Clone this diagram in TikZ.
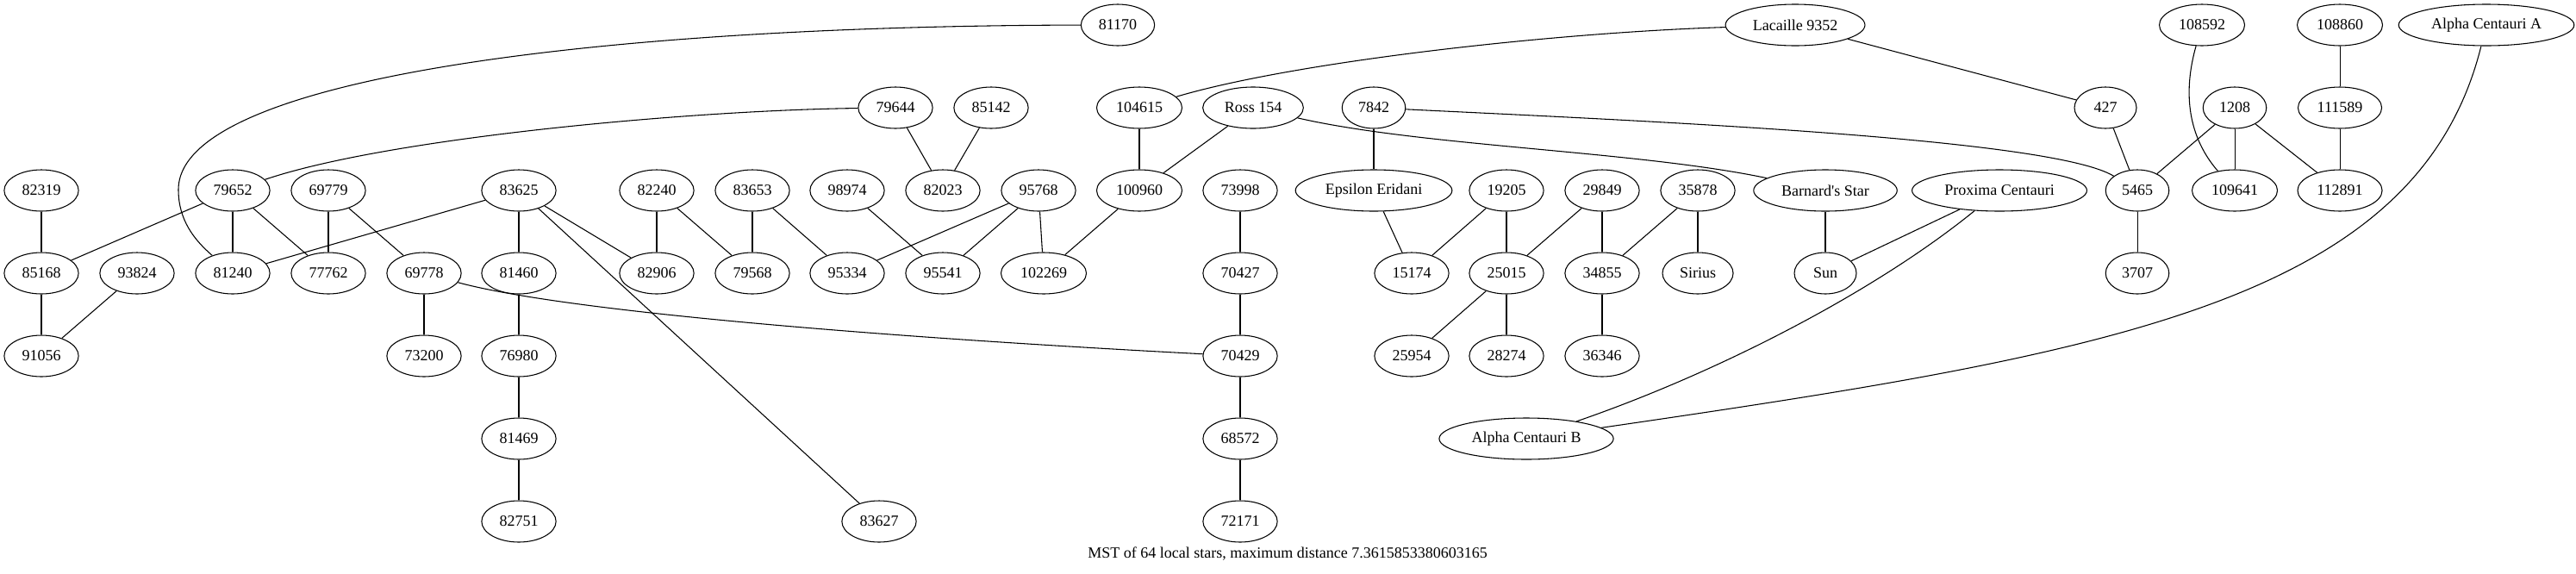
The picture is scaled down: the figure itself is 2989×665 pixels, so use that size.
\documentclass[tikz,border=0pt]{standalone}
\usepackage{fontspec}
\setmainfont{Liberation Serif}
\usetikzlibrary{shapes.geometric}
\tikzstyle{starnode} = [ellipse, draw = black, line width=0.8pt, minimum width=54pt, minimum height=36pt, inner xsep=6pt, inner ysep=2pt, font=\fontsize{13.5pt}{16pt}\selectfont]
\tikzstyle{link} = [line width=0.8pt]
\tikzstyle{caption} = [font=\fontsize{13.5pt}{16pt}\selectfont]

\begin{document}
\begin{tikzpicture}[x=0.75pt, y=-0.75pt, node distance=72pt]
\useasboundingbox (0,0) rectangle (2989,665);
%第一层
\node[starnode] at (1297,29)(s81170){81170};
\node[starnode] at (2083,29)(lacaille){Lacaille 9352};
\node[starnode] at (2555,29)(s108592){108592};
\node[starnode] at (2715,29)(s108860){108860};
\node[starnode] at (2885,29)(alphaA){Alpha Centauri A};
%第二层
\node[starnode] at (1039,125)(s79644){79644};
\node[starnode] at (1150,125)(s85142){85142};
\node[starnode] at (1322,125)(s104615){104615};
\node[starnode] at (1454,125)(ross){Ross 154};
\node[starnode] at (1594,125)(s7842){7842};
\node[starnode] at (2443,125)(s427){427};
\node[starnode] at (2593,125)(s1208){1208};
\node[starnode, below of = s108860](s111589){111589};
%第三层
\node[starnode] at (48,221)(s82319){82319};
\node[starnode] at (270,221)(s79652){79652};
\node[starnode] at (381,221)(s69779){69779};
\node[starnode] at (602,221)(s83625){83625};
\node[starnode] at (762,221)(s82240){82240};
\node[starnode] at (873,221)(s83653){83653};
\node[starnode] at (983,221)(s98974){98974};
\node[starnode] at (1094,221)(s82023){82023};
\node[starnode] at (1205,221)(s95768){95768};
\node[starnode, below of = s104615](s100960){100960};
\node[starnode] at (1439,221)(s73998){73998};
\node[starnode, below of = s7842](epseri){Epsilon Eridani};
\node[starnode] at (1748,221)(s19205){19205};
\node[starnode] at (1859,221)(s29849){29849};
\node[starnode] at (1970,221)(s35878){35878};
\node[starnode] at (2118,221)(barnard){Barnard\textquotesingle s Star};
\node[starnode] at (2320,221)(proxima){Proxima Centauri};
\node[starnode] at (2480,221)(s5465){5465};
\node[starnode, below of = s1208](s109641){109641};
\node[starnode, below of = s111589](s112891){112891};
%第四层
\node[starnode, below of = s82319](s85168){85168};
\node[starnode] at (159,317)(s93824){93824};
\node[starnode, below of = s79652](s81240){81240};
\node[starnode, below of = s69779](s77762){77762};
\node[starnode] at (492,317)(s69778){69778};
\node[starnode, below of = s83625](s81460){81460};
\node[starnode, below of = s82240](s82906){82906};
\node[starnode, below of = s83653](s79568){79568};
\node[starnode, below of = s98974](s95334){95334};
\node[starnode, below of = s82023](s95541){95541};
\node[starnode] at (1211,317)(s102269){102269};
\node[starnode, below of = s73998](s70427){70427};
\node[starnode] at (1638,317)(s15174){15174};
\node[starnode, below of = s19205](s25015){25015};
\node[starnode, below of = s29849](s34855){34855};
\node[starnode, below of = s35878](sirius){Sirius};
\node[starnode, below of = barnard](sun){Sun};
\node[starnode, below of = s5465](s3707){3707};
%第五层
\node[starnode, below of = s85168](s91056){91056};
\node[starnode, below of = s69778](s73200){73200};
\node[starnode, below of = s81460](s76980){76980};
\node[starnode, below of = s70427](s70429){70429};
\node[starnode, below of = s15174](s25954){25954};
\node[starnode, below of = s25015](s28274){28274};
\node[starnode, below of = s34855](s36346){36346};
%第六、七层
\node[starnode, below of = s76980](s81469){81469};
\node[starnode, below of = s70429](s68572){68572};
\node[starnode] at (1771,509)(alphaB){Alpha Centauri B};
\node[starnode, below of = s81469](s82751){82751};
\node[starnode] at (1020,605)(s83627){83627};
\node[starnode, below of = s68572](s72171){72171};
\node[caption] at (1494,643)(title){MST of 64 local stars, maximum distance 7.3615853380603165};
%连接节点
\draw [link] (s81170) .. controls (700,30) and (207,90) .. (207,220) .. controls (207,255) and (225,278) .. (s81240);
\draw [link] (s79644) .. controls (800,128) and (450,160) .. (s79652);
\draw [link] (s79652) -- (s85168);
\draw [link] (s79652) -- (s81240);
\draw [link] (s79652) -- (s77762);
\draw [link] (s69779) -- (s77762);
\draw [link] (s69779) -- (s69778);
\draw [link] (s83625) -- (s81240);
\draw [link] (s83625) -- (s81460);
\draw [link] (s83625) -- (s82906);
\draw [link] (s83625) -- (s83627);
\draw [link] (s82319) -- (s85168);
\draw [link] (s85168) -- (s91056);
\draw [link] (s93824) -- (s91056);
\draw [link] (s69778) -- (s73200);
\draw [link] (s69778) .. controls (650,360) and (1000,390) .. (s70429);
\draw [link] (s81460) -- (s76980);
\draw [link] (s76980) -- (s81469);
\draw [link] (s81469) -- (s82751);
\draw [link] (s82240) -- (s82906);
\draw [link] (s82240) -- (s79568);
\draw [link] (s83653) -- (s79568);
\draw [link] (s83653) -- (s95334);
\draw [link] (s98974) -- (s95541);
\draw [link] (s79644) -- (s82023);
\draw [link] (s85142) -- (s82023);
\draw [link] (s95768) -- (s95334);
\draw [link] (s95768) -- (s95541);
\draw [link] (s95768) -- (s102269);
\draw [link] (s100960) -- (s102269);
\draw [link] (s104615) -- (s100960);
\draw [link] (lacaille) .. controls (1800,38) and (1500,72) .. (s104615);
\draw [link] (lacaille) -- (s427);
\draw [link] (ross) -- (s100960);
\draw [link] (ross) .. controls (1650,170) and (1900,175) .. (barnard);
\draw [link] (s73998) -- (s70427);
\draw [link] (s70427) -- (s70429);
\draw [link] (s70429) -- (s68572);
\draw [link] (s68572) -- (s72171);
\draw [link] (s7842) -- (epseri);
\draw [link] (s7842) .. controls (1900,140) and (2380,160) .. (s5465);
\draw [link] (epseri) -- (s15174);
\draw [link] (s19205) -- (s15174);
\draw [link] (s19205) -- (s25015);
\draw [link] (s29849) -- (s25015);
\draw [link] (s29849) -- (s34855);
\draw [link] (s35878) -- (s34855);
\draw [link] (s35878) -- (sirius);
\draw [link] (s25015) -- (s25954);
\draw [link] (s25015) -- (s28274);
\draw [link] (s34855) -- (s36346);
\draw [link] (barnard) -- (sun);
\draw [link] (proxima) -- (sun);
\draw [link] (proxima) .. controls (2180,335) and (2000,430) .. (alphaB);
\draw [link] (alphaA) .. controls (2805,350) and (2450,410) .. (alphaB);
\draw [link] (s427) -- (s5465);
\draw [link] (s5465) -- (s3707);
\draw [link] (s1208) -- (s5465);
\draw [link] (s1208) -- (s109641);
\draw [link] (s1208) -- (s112891);
\draw [link] (s108592) .. controls (2532,110) and (2540,160) .. (s109641);
\draw [link] (s108860) -- (s111589);
\draw [link] (s111589) -- (s112891);
\end{tikzpicture}
\end{document}
